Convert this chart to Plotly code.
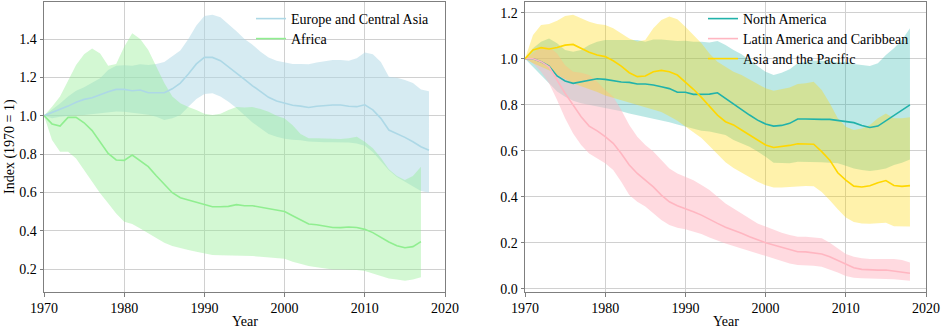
import plotly.graph_objects as go

# ---------------- data ----------------
years_eu = list(range(1970, 2019))
years_af = list(range(1970, 2018))
years_r = list(range(1970, 2019))

eu_mean = [1.0, 1.016, 1.033, 1.05, 1.07, 1.085, 1.094, 1.11, 1.125, 1.137,
           1.137, 1.13, 1.134, 1.12, 1.12, 1.12, 1.14, 1.17, 1.217, 1.27,
           1.304, 1.304, 1.287, 1.256, 1.224, 1.19, 1.156, 1.125, 1.096, 1.077,
           1.066, 1.054, 1.05, 1.043, 1.049, 1.054, 1.056, 1.056, 1.049, 1.047,
           1.057, 1.03, 0.986, 0.925, 0.908, 0.887, 0.864, 0.838, 0.82]
eu_upper = [1.0, 1.03, 1.064, 1.1, 1.13, 1.148, 1.17, 1.195, 1.238, 1.26,
            1.263, 1.26, 1.268, 1.264, 1.27, 1.28, 1.31, 1.34, 1.40, 1.47,
            1.52, 1.527, 1.513, 1.478, 1.44, 1.40, 1.37, 1.334, 1.304, 1.287,
            1.278, 1.27, 1.27, 1.268, 1.277, 1.285, 1.29, 1.29, 1.287, 1.30,
            1.33, 1.32, 1.28, 1.203, 1.198, 1.186, 1.17, 1.137, 1.128]
eu_lower = [1.0, 0.986, 0.995, 1.0, 1.002, 1.003, 1.008, 1.015, 1.02, 1.022,
            1.02, 1.016, 1.012, 1.005, 0.995, 0.977, 0.986, 1.003, 1.047, 1.087,
            1.113, 1.117, 1.1, 1.073, 1.04, 1.0, 0.965, 0.935, 0.905, 0.89,
            0.88, 0.875, 0.872, 0.865, 0.862, 0.862, 0.862, 0.862, 0.86, 0.855,
            0.843, 0.81, 0.765, 0.715, 0.68, 0.655, 0.63, 0.607, 0.598]

af_mean = [1.0, 0.957, 0.946, 0.991, 0.991, 0.963, 0.922, 0.864, 0.803, 0.769,
           0.767, 0.795, 0.765, 0.734, 0.687, 0.642, 0.598, 0.572, 0.56, 0.551,
           0.537, 0.525, 0.525, 0.527, 0.536, 0.53, 0.53, 0.522, 0.515, 0.508,
           0.5, 0.478, 0.456, 0.435, 0.431, 0.424, 0.417, 0.416, 0.419, 0.417,
           0.407, 0.39, 0.365, 0.341, 0.322, 0.311, 0.317, 0.343]
af_upper = [1.0, 1.047, 1.1, 1.186, 1.264, 1.32, 1.35, 1.325, 1.26, 1.27,
            1.36, 1.43, 1.40, 1.343, 1.255, 1.17, 1.10, 1.065, 1.045, 1.03,
            1.01, 1.003, 1.01, 1.03, 1.045, 1.043, 1.045, 1.035, 1.02, 1.0,
            0.985, 0.95, 0.905, 0.882, 0.882, 0.88, 0.878, 0.878, 0.882, 0.89,
            0.864, 0.83, 0.78, 0.72, 0.685, 0.664, 0.685, 0.734]
af_lower = [1.0, 0.873, 0.812, 0.812, 0.777, 0.717, 0.656, 0.595, 0.543, 0.49,
            0.447, 0.435, 0.412, 0.386, 0.36, 0.337, 0.32, 0.308, 0.299, 0.29,
            0.282, 0.273, 0.272, 0.271, 0.272, 0.268, 0.268, 0.264, 0.261, 0.257,
            0.254, 0.238, 0.226, 0.216, 0.209, 0.202, 0.198, 0.198, 0.198, 0.195,
            0.19, 0.177, 0.165, 0.151, 0.146, 0.139, 0.146, 0.157]

na_mean = [1.0, 1.0, 0.987, 0.968, 0.925, 0.903, 0.893, 0.9, 0.907, 0.913,
           0.91, 0.904, 0.899, 0.897, 0.89, 0.89, 0.886, 0.878, 0.87, 0.854,
           0.854, 0.845, 0.845, 0.846, 0.852, 0.828, 0.801, 0.777, 0.755, 0.733,
           0.716, 0.707, 0.71, 0.719, 0.738, 0.738, 0.736, 0.736, 0.736, 0.732,
           0.725, 0.722, 0.71, 0.701, 0.707, 0.73, 0.754, 0.777, 0.799]
na_upper = [1.0, 1.045, 1.074, 1.088, 1.067, 1.038, 1.03, 1.038, 1.06, 1.074,
            1.081, 1.081, 1.078, 1.078, 1.081, 1.074, 1.084, 1.084, 1.081, 1.077,
            1.078, 1.074, 1.074, 1.07, 1.077, 1.06, 1.038, 1.019, 0.994, 0.968,
            0.943, 0.929, 0.939, 0.954, 0.98, 0.987, 0.991, 0.991, 0.99, 0.983,
            0.987, 0.977, 0.972, 0.968, 0.98, 1.016, 1.045, 1.081, 1.132]
na_lower = [1.0, 0.965, 0.929, 0.893, 0.857, 0.835, 0.817, 0.806, 0.799, 0.794,
            0.788, 0.78, 0.772, 0.762, 0.755, 0.748, 0.741, 0.733, 0.724, 0.714,
            0.705, 0.695, 0.687, 0.683, 0.677, 0.668, 0.646, 0.632, 0.617, 0.596,
            0.574, 0.548, 0.545, 0.545, 0.552, 0.552, 0.552, 0.55, 0.548, 0.545,
            0.535, 0.523, 0.516, 0.512, 0.516, 0.523, 0.538, 0.548, 0.562]

la_mean = [1.0, 1.0, 0.987, 0.965, 0.907, 0.849, 0.799, 0.748, 0.707, 0.686,
           0.661, 0.632, 0.588, 0.538, 0.501, 0.472, 0.443, 0.407, 0.378, 0.361,
           0.349, 0.335, 0.32, 0.301, 0.284, 0.267, 0.255, 0.241, 0.226, 0.212,
           0.2, 0.19, 0.18, 0.168, 0.161, 0.16, 0.157, 0.151, 0.139, 0.122,
           0.106, 0.091, 0.084, 0.081, 0.081, 0.081, 0.077, 0.071, 0.067]
la_upper = [1.0, 1.023, 1.052, 1.052, 1.023, 0.972, 0.943, 0.939, 0.929, 0.9,
            0.864, 0.835, 0.777, 0.712, 0.661, 0.625, 0.596, 0.559, 0.523, 0.501,
            0.487, 0.472, 0.451, 0.429, 0.4, 0.371, 0.349, 0.328, 0.306, 0.284,
            0.27, 0.255, 0.243, 0.233, 0.226, 0.226, 0.223, 0.219, 0.2, 0.175,
            0.151, 0.139, 0.132, 0.129, 0.129, 0.132, 0.129, 0.125, 0.114]
la_lower = [1.0, 0.98, 0.943, 0.893, 0.82, 0.741, 0.675, 0.625, 0.588, 0.567,
            0.545, 0.516, 0.465, 0.407, 0.378, 0.357, 0.328, 0.299, 0.277, 0.265,
            0.258, 0.248, 0.238, 0.223, 0.209, 0.197, 0.186, 0.175, 0.165, 0.154,
            0.142, 0.132, 0.122, 0.11, 0.103, 0.103, 0.1, 0.096, 0.084, 0.07,
            0.055, 0.048, 0.045, 0.043, 0.043, 0.042, 0.041, 0.038, 0.035]

as_mean = [1.0, 1.038, 1.048, 1.042, 1.049, 1.059, 1.062, 1.045, 1.028, 1.016,
           1.009, 0.991, 0.968, 0.939, 0.922, 0.925, 0.943, 0.949, 0.943, 0.929,
           0.9, 0.867, 0.832, 0.791, 0.755, 0.726, 0.712, 0.69, 0.668, 0.646,
           0.625, 0.614, 0.617, 0.623, 0.63, 0.629, 0.628, 0.596, 0.559, 0.504,
           0.472, 0.446, 0.442, 0.448, 0.461, 0.47, 0.449, 0.445, 0.448]
as_upper = [1.0, 1.103, 1.146, 1.151, 1.165, 1.186, 1.191, 1.175, 1.161, 1.151,
            1.146, 1.132, 1.11, 1.088, 1.075, 1.081, 1.132, 1.168, 1.183, 1.171,
            1.139, 1.103, 1.067, 1.023, 0.987, 0.965, 0.943, 0.929, 0.91, 0.89,
            0.871, 0.861, 0.867, 0.875, 0.89, 0.893, 0.9, 0.864, 0.806, 0.741,
            0.704, 0.69, 0.697, 0.712, 0.741, 0.762, 0.741, 0.741, 0.745]
as_lower = [1.0, 0.98, 0.965, 0.95, 0.93, 0.91, 0.893, 0.88, 0.868, 0.855,
            0.84, 0.83, 0.82, 0.81, 0.80, 0.79, 0.78, 0.768, 0.75, 0.73,
            0.705, 0.68, 0.655, 0.62, 0.585, 0.55, 0.525, 0.505, 0.485, 0.465,
            0.45, 0.44, 0.44, 0.442, 0.447, 0.447, 0.445, 0.42, 0.385, 0.345,
            0.31, 0.29, 0.283, 0.282, 0.285, 0.287, 0.272, 0.27, 0.27]

x_ticks = [1970, 1980, 1990, 2000, 2010, 2020]
y_ticks_left = [0.2, 0.4, 0.6, 0.8, 1.0, 1.2, 1.4]
y_ticks_right = [0.0, 0.2, 0.4, 0.6, 0.8, 1.0, 1.2]

left_series = [
    ("Europe and Central Asia", years_eu, eu_mean, eu_lower, eu_upper, "#ADD8E6", "rgba(173,216,230,0.5)"),
    ("Africa", years_af, af_mean, af_lower, af_upper, "#90EE90", "rgba(144,238,144,0.4)"),
]
right_series = [
    ("North America", years_r, na_mean, na_lower, na_upper, "#20B2AA", "rgba(32,178,170,0.3)"),
    ("Latin America and Caribbean", years_r, la_mean, la_lower, la_upper, "#FFB6C1", "rgba(255,182,193,0.5)"),
    ("Asia and the Pacific", years_r, as_mean, as_lower, as_upper, "#FFD700", "rgba(255,215,0,0.33)"),
]

FONT = "Liberation Serif"
W, H = 945, 330
fig = go.Figure()

legend_ids = iter(["legend", "legend2", "legend3", "legend4", "legend5"])
legend_layout = {}


def add_panel(series, xa, ya, leg_x, rows):
    for name, x, m, lo, hi, col, fcol in series:
        fig.add_trace(go.Scatter(x=x, y=lo, mode="lines", line=dict(width=0),
                                 showlegend=False, hoverinfo="skip", xaxis=xa, yaxis=ya))
        fig.add_trace(go.Scatter(x=x, y=hi, mode="lines", line=dict(width=0),
                                 fill="tonexty", fillcolor=fcol,
                                 showlegend=False, hoverinfo="skip", xaxis=xa, yaxis=ya))
    for (name, x, m, lo, hi, col, fcol), row in zip(series, rows):
        lid = next(legend_ids)
        fig.add_trace(go.Scatter(x=x, y=m, mode="lines", name=name,
                                 line=dict(color=col, width=1.6),
                                 xaxis=xa, yaxis=ya, legend=lid))
        legend_layout[lid] = dict(x=leg_x / W, y=1 - row / H, xanchor="left", yanchor="middle",
                                  bgcolor="rgba(0,0,0,0)", borderwidth=0, traceorder="normal",
                                  font=dict(family=FONT, size=14, color="black"))


add_panel(left_series, "x", "y", 251, [19, 39])
add_panel(right_series, "x2", "y2", 703, [19, 39, 59])

ydom = [38 / H, 328 / H]
common = dict(showline=True, linecolor="#7f7f7f", linewidth=1, mirror=True,
              ticks="outside", ticklen=3.5, tickcolor="#7f7f7f", tickwidth=1,
              showgrid=True, gridcolor="#d0d0d0", gridwidth=1, zeroline=False,
              automargin=False,
              tickfont=dict(family=FONT, size=14, color="black"))

fig.update_layout(
    template="none",
    width=W, height=H,
    margin=dict(l=0, r=0, t=0, b=0, pad=0, autoexpand=False),
    paper_bgcolor="white", plot_bgcolor="white",
    xaxis=dict(domain=[44 / W, 445 / W], range=[1970, 2020], tickvals=x_ticks, anchor="y", **common),
    yaxis=dict(domain=ydom, range=[0.0803, 1.593], tickvals=y_ticks_left, tickformat=".1f", anchor="x", **common),
    xaxis2=dict(domain=[525 / W, 926 / W], range=[1970, 2020], tickvals=x_ticks, anchor="y2", **common),
    yaxis2=dict(domain=ydom, range=[-0.0143, 1.2465], tickvals=y_ticks_right, tickformat=".1f", anchor="x2", **common),
    annotations=[
        dict(text="Index (1970 = 1)", x=10 / W, y=1 - 147 / H, xref="paper", yref="paper",
             textangle=-90, showarrow=False, xanchor="center", yanchor="middle",
             font=dict(family=FONT, size=14, color="black")),
        dict(text="Year", x=244.5 / W, y=1 - 321 / H, xref="paper", yref="paper",
             showarrow=False, xanchor="center", yanchor="middle",
             font=dict(family=FONT, size=14, color="black")),
        dict(text="Year", x=725.5 / W, y=1 - 321 / H, xref="paper", yref="paper",
             showarrow=False, xanchor="center", yanchor="middle",
             font=dict(family=FONT, size=14, color="black")),
    ],
    **legend_layout,
)

fig.write_html("out.html")
